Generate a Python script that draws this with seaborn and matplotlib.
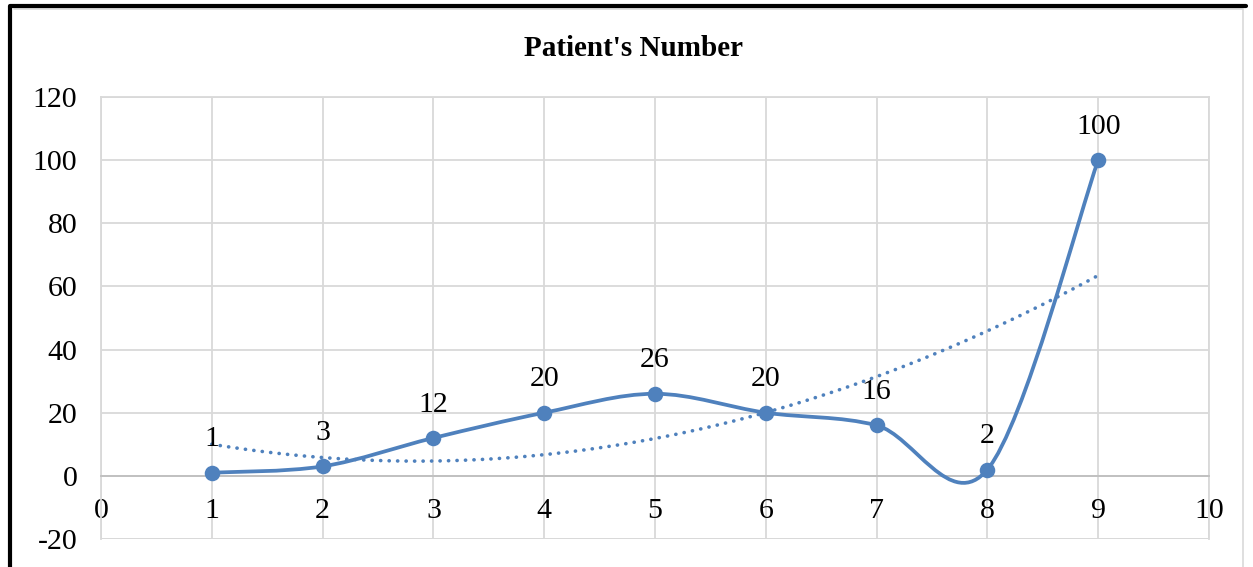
import numpy as np
import seaborn as sns
import matplotlib.pyplot as plt
from matplotlib.path import Path
from matplotlib.patches import PathPatch
from matplotlib.lines import Line2D

# data
days = [1, 2, 3, 4, 5, 6, 7, 8, 9]
patients = [1, 3, 12, 20, 26, 20, 16, 2, 100]
x_ticks = [0, 1, 2, 3, 4, 5, 6, 7, 8, 9, 10]
y_ticks = [-20, 0, 20, 40, 60, 80, 100, 120]

blue = '#4F81BD'
grid_c = '#D9D9D9'

sns.set_style('white')
plt.rcParams['font.family'] = ['Liberation Serif', 'DejaVu Serif']
plt.rcParams['axes.unicode_minus'] = False
plt.rcParams['text.color'] = 'black'
plt.rcParams['xtick.color'] = 'black'
plt.rcParams['ytick.color'] = 'black'

fig = plt.figure(figsize=(12.53, 5.67), dpi=100)
ax = fig.add_axes([101 / 1253, 1 - 539 / 567, (1209 - 101) / 1253, (539 - 97) / 567])

ax.set_xlim(0, 10)
ax.set_ylim(-20, 120)
ax.set_xticks(x_ticks)
ax.set_yticks(y_ticks)
ax.grid(True, color=grid_c, lw=1.3)
ax.set_axisbelow(True)
for s in ['top', 'right', 'left']:
    ax.spines[s].set_color(grid_c)
    ax.spines[s].set_linewidth(1.3)
ax.spines['bottom'].set_position(('data', 0))
ax.spines['bottom'].set_color('#BFBFBF')
ax.spines['bottom'].set_linewidth(1.3)
ax.tick_params(length=0, labelsize=21.5, labelcolor='black')
ax.tick_params(axis='x', pad=16)
ax.tick_params(axis='y', pad=17)
# bottom border of plot area at -20
ax.axhline(-20, color=grid_c, lw=1.3)

# smooth line (Excel-style bezier through points)
pts = np.column_stack([days, patients]).astype(float)
ext = np.vstack([pts[0], pts, pts[-1]])
verts = [tuple(pts[0])]
codes = [Path.MOVETO]
for i in range(1, len(ext) - 2):
    p0, p1, p2, p3 = ext[i - 1], ext[i], ext[i + 1], ext[i + 2]
    c1 = p1 + (p2 - p0) / 6
    c2 = p2 - (p3 - p1) / 6
    verts += [tuple(c1), tuple(c2), tuple(p2)]
    codes += [Path.CURVE4] * 3
ax.add_patch(PathPatch(Path(verts, codes), facecolor='none', edgecolor=blue,
                       lw=2.7, zorder=3, capstyle='round', joinstyle='round'))

# trendline (polynomial order 2)
sns.regplot(x=days, y=patients, order=2, ci=None, scatter=False, ax=ax,
            line_kws=dict(color=blue, lw=2.6, ls=(0, (0.05, 2.3)), dash_capstyle='round'))

sns.scatterplot(x=days, y=patients, ax=ax, color=blue, s=125, edgecolor=blue,
                linewidth=0, zorder=4)

for d, p in zip(days, patients):
    ax.annotate(str(p), (d, p), xytext=(0, 24), textcoords='offset points',
                ha='center', va='center', fontsize=21.5, color='black', zorder=5)

ax.set_xlabel('')
ax.set_ylabel('')

fig.text(633 / 1253, 1 - 48 / 567, "Patient's Number", ha='center', va='center',
         fontsize=21, fontweight='bold', color='black')

# chart frame
fig.add_artist(Line2D([14 / 1253, 1243 / 1253, 1243 / 1253], [1 - 9 / 567, 1 - 9 / 567, 0],
                      transform=fig.transFigure, color=grid_c, lw=1.2))
fig.add_artist(Line2D([10 / 1253, 10 / 1253, 1246 / 1253], [0, 1 - 6 / 567, 1 - 6 / 567],
                      transform=fig.transFigure, color='black', lw=3))

fig.savefig('out.png', dpi=100)
